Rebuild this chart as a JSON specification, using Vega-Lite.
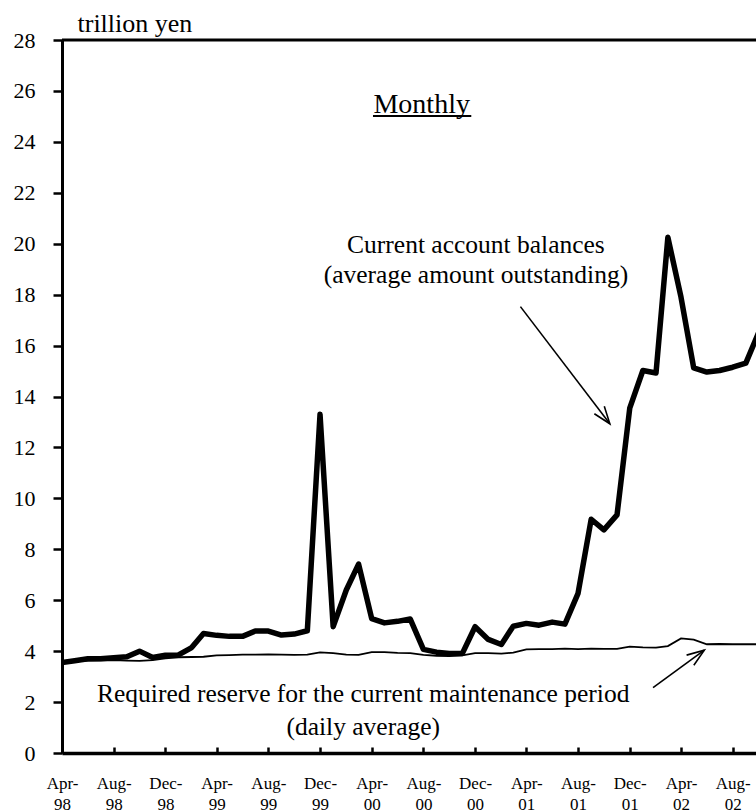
{
  "$schema": "https://vega.github.io/schema/vega-lite/v6.json",
  "autosize": {"type": "none"},
  "width": 694,
  "height": 713,
  "padding": {"left": 62, "top": 40, "right": 0, "bottom": 59},
  "background": "white",
  "config": {
    "view": {"stroke": null},
    "font": "Liberation Serif",
    "axis": {"grid": false, "labelFont": "Liberation Serif", "titleFont": "Liberation Serif"}
  },
  "datasets": {
    "monthly": [
      {"month": "1998-04-01", "balance": 3.55, "reserve": 3.55},
      {"month": "1998-05-01", "balance": 3.62, "reserve": 3.60},
      {"month": "1998-06-01", "balance": 3.70, "reserve": 3.63},
      {"month": "1998-07-01", "balance": 3.70, "reserve": 3.64},
      {"month": "1998-08-01", "balance": 3.74, "reserve": 3.65},
      {"month": "1998-09-01", "balance": 3.78, "reserve": 3.63},
      {"month": "1998-10-01", "balance": 4.00, "reserve": 3.62},
      {"month": "1998-11-01", "balance": 3.75, "reserve": 3.65},
      {"month": "1998-12-01", "balance": 3.84, "reserve": 3.72},
      {"month": "1999-01-01", "balance": 3.85, "reserve": 3.76},
      {"month": "1999-02-01", "balance": 4.14, "reserve": 3.77},
      {"month": "1999-03-01", "balance": 4.69, "reserve": 3.78},
      {"month": "1999-04-01", "balance": 4.62, "reserve": 3.83},
      {"month": "1999-05-01", "balance": 4.58, "reserve": 3.84},
      {"month": "1999-06-01", "balance": 4.58, "reserve": 3.86},
      {"month": "1999-07-01", "balance": 4.79, "reserve": 3.86},
      {"month": "1999-08-01", "balance": 4.79, "reserve": 3.87},
      {"month": "1999-09-01", "balance": 4.63, "reserve": 3.86},
      {"month": "1999-10-01", "balance": 4.67, "reserve": 3.85},
      {"month": "1999-11-01", "balance": 4.80, "reserve": 3.86},
      {"month": "1999-12-01", "balance": 13.30, "reserve": 3.95},
      {"month": "2000-01-01", "balance": 4.96, "reserve": 3.92},
      {"month": "2000-02-01", "balance": 6.40, "reserve": 3.86},
      {"month": "2000-03-01", "balance": 7.42, "reserve": 3.85},
      {"month": "2000-04-01", "balance": 5.28, "reserve": 3.96},
      {"month": "2000-05-01", "balance": 5.11, "reserve": 3.96},
      {"month": "2000-06-01", "balance": 5.17, "reserve": 3.93},
      {"month": "2000-07-01", "balance": 5.26, "reserve": 3.92},
      {"month": "2000-08-01", "balance": 4.07, "reserve": 3.85},
      {"month": "2000-09-01", "balance": 3.96, "reserve": 3.82},
      {"month": "2000-10-01", "balance": 3.91, "reserve": 3.81},
      {"month": "2000-11-01", "balance": 3.91, "reserve": 3.83},
      {"month": "2000-12-01", "balance": 4.96, "reserve": 3.92},
      {"month": "2001-01-01", "balance": 4.46, "reserve": 3.92},
      {"month": "2001-02-01", "balance": 4.26, "reserve": 3.90},
      {"month": "2001-03-01", "balance": 4.98, "reserve": 3.94},
      {"month": "2001-04-01", "balance": 5.09, "reserve": 4.07},
      {"month": "2001-05-01", "balance": 5.02, "reserve": 4.08},
      {"month": "2001-06-01", "balance": 5.14, "reserve": 4.08},
      {"month": "2001-07-01", "balance": 5.06, "reserve": 4.10},
      {"month": "2001-08-01", "balance": 6.27, "reserve": 4.08},
      {"month": "2001-09-01", "balance": 9.18, "reserve": 4.10},
      {"month": "2001-10-01", "balance": 8.76, "reserve": 4.09},
      {"month": "2001-11-01", "balance": 9.35, "reserve": 4.09},
      {"month": "2001-12-01", "balance": 13.54, "reserve": 4.18},
      {"month": "2002-01-01", "balance": 15.02, "reserve": 4.15},
      {"month": "2002-02-01", "balance": 14.92, "reserve": 4.14},
      {"month": "2002-03-01", "balance": 20.25, "reserve": 4.20},
      {"month": "2002-04-01", "balance": 17.90, "reserve": 4.50},
      {"month": "2002-05-01", "balance": 15.12, "reserve": 4.45},
      {"month": "2002-06-01", "balance": 14.96, "reserve": 4.27},
      {"month": "2002-07-01", "balance": 15.02, "reserve": 4.28},
      {"month": "2002-08-01", "balance": 15.15, "reserve": 4.27},
      {"month": "2002-09-01", "balance": 15.31, "reserve": 4.27},
      {"month": "2002-10-01", "balance": 16.50, "reserve": 4.27}
    ],
    "one": [{}]
  },
  "layer": [
    {
      "data": {"name": "one"},
      "mark": {"type": "rule", "color": "black", "strokeWidth": 3},
      "encoding": {"y": {"datum": 28, "type": "quantitative"}}
    },
    {
      "data": {"name": "monthly"},
      "mark": {"type": "line", "color": "black", "strokeWidth": 1.8, "clip": true},
      "encoding": {
        "x": {
          "field": "month",
          "type": "temporal",
          "scale": {
            "type": "utc",
            "domain": [
              {"year": 1998, "month": 4, "date": 1, "utc": true},
              {"year": 2002, "month": 9, "date": 25, "utc": true}
            ]
          },
          "axis": {
            "title": null,
            "values": [
              {"year": 1998, "month": 4, "date": 1, "utc": true},
              {"year": 1998, "month": 8, "date": 1, "utc": true},
              {"year": 1998, "month": 12, "date": 1, "utc": true},
              {"year": 1999, "month": 4, "date": 1, "utc": true},
              {"year": 1999, "month": 8, "date": 1, "utc": true},
              {"year": 1999, "month": 12, "date": 1, "utc": true},
              {"year": 2000, "month": 4, "date": 1, "utc": true},
              {"year": 2000, "month": 8, "date": 1, "utc": true},
              {"year": 2000, "month": 12, "date": 1, "utc": true},
              {"year": 2001, "month": 4, "date": 1, "utc": true},
              {"year": 2001, "month": 8, "date": 1, "utc": true},
              {"year": 2001, "month": 12, "date": 1, "utc": true},
              {"year": 2002, "month": 4, "date": 1, "utc": true},
              {"year": 2002, "month": 8, "date": 1, "utc": true}
            ],
            "labelExpr": "[utcFormat(datum.value, '%b') + '-', utcFormat(datum.value, '%y')]",
            "labelFont": "Liberation Serif",
            "labelFontSize": 17,
            "labelLineHeight": 21,
            "labelColor": "black",
            "labelBaseline": "top",
            "labelPadding": 28,
            "labelOverlap": false,
            "labelBound": false,
            "labelFlush": false,
            "domainColor": "black",
            "domainWidth": 3.5,
            "tickColor": "black",
            "tickWidth": 2.5,
            "tickSize": -6
          }
        },
        "y": {
          "field": "reserve",
          "type": "quantitative",
          "scale": {"domain": [0, 28], "nice": false},
          "axis": {
            "values": [0, 2, 4, 6, 8, 10, 12, 14, 16, 18, 20, 22, 24, 26, 28],
            "title": "trillion yen",
            "titleAngle": 0,
            "titleX": 15,
            "titleY": -9,
            "titleAlign": "left",
            "titleBaseline": "alphabetic",
            "titleFont": "Liberation Serif",
            "titleFontSize": 26,
            "titleFontWeight": "normal",
            "titleColor": "black",
            "labelFont": "Liberation Serif",
            "labelFontSize": 22,
            "labelColor": "black",
            "labelPadding": 18,
            "domainColor": "black",
            "domainWidth": 3,
            "tickColor": "black",
            "tickWidth": 2.5,
            "tickSize": 9
          }
        }
      }
    },
    {
      "data": {"name": "monthly"},
      "mark": {"type": "line", "color": "black", "strokeWidth": 5.5, "strokeJoin": "round", "clip": true},
      "encoding": {
        "x": {"field": "month", "type": "temporal"},
        "y": {"field": "balance", "type": "quantitative"}
      }
    },
    {
      "data": {"name": "one"},
      "mark": {"type": "text", "text": "Monthly", "font": "Liberation Serif", "fontSize": 28, "align": "center", "baseline": "alphabetic", "color": "black"},
      "encoding": {
        "x": {"datum": {"year": 2000, "month": 7, "date": 28, "utc": true}, "type": "temporal"},
        "y": {"datum": 25.14, "type": "quantitative"}
      }
    },
    {
      "data": {"name": "one"},
      "mark": {"type": "rule", "color": "black", "strokeWidth": 2},
      "encoding": {
        "x": {"datum": {"year": 2000, "month": 4, "date": 4, "utc": true}, "type": "temporal"},
        "x2": {"datum": {"year": 2000, "month": 11, "date": 22, "utc": true}},
        "y": {"datum": 25.02, "type": "quantitative"}
      }
    },
    {
      "data": {"name": "one"},
      "mark": {"type": "text", "text": ["Current account balances", "(average amount outstanding)"], "lineHeight": 30, "font": "Liberation Serif", "fontSize": 25.5, "align": "center", "baseline": "alphabetic", "color": "black"},
      "encoding": {
        "x": {"datum": {"year": 2000, "month": 12, "date": 3, "utc": true}, "type": "temporal"},
        "y": {"datum": 19.64, "type": "quantitative"}
      }
    },
    {
      "data": {"name": "one"},
      "mark": {"type": "rule", "color": "black", "strokeWidth": 1.6},
      "encoding": {
        "x": {"datum": {"year": 2001, "month": 3, "date": 18, "utc": true}, "type": "temporal"},
        "x2": {"datum": {"year": 2001, "month": 10, "date": 15, "utc": true}},
        "y": {"datum": 17.53, "type": "quantitative"},
        "y2": {"datum": 12.93}
      }
    },
    {
      "data": {"name": "one"},
      "mark": {"type": "point", "shape": "M -1 -0.36 L 0 0 L -1 0.36", "filled": false, "stroke": "black", "strokeWidth": 1.6, "size": 1200, "angle": 52.7, "opacity": 1},
      "encoding": {
        "x": {"datum": {"year": 2001, "month": 10, "date": 15, "utc": true}, "type": "temporal"},
        "y": {"datum": 12.93, "type": "quantitative"}
      }
    },
    {
      "data": {"name": "one"},
      "mark": {"type": "text", "text": ["Required reserve for the current maintenance period", "(daily average)"], "lineHeight": 33, "font": "Liberation Serif", "fontSize": 25.5, "align": "center", "baseline": "alphabetic", "color": "black"},
      "encoding": {
        "x": {"datum": {"year": 2000, "month": 3, "date": 12, "utc": true}, "type": "temporal"},
        "y": {"datum": 2.0, "type": "quantitative"}
      }
    },
    {
      "data": {"name": "one"},
      "mark": {"type": "rule", "color": "black", "strokeWidth": 1.6},
      "encoding": {
        "x": {"datum": {"year": 2002, "month": 1, "date": 25, "utc": true}, "type": "temporal"},
        "x2": {"datum": {"year": 2002, "month": 5, "date": 26, "utc": true}},
        "y": {"datum": 2.57, "type": "quantitative"},
        "y2": {"datum": 4.04}
      }
    },
    {
      "data": {"name": "one"},
      "mark": {"type": "point", "shape": "M -1 -0.36 L 0 0 L -1 0.36", "filled": false, "stroke": "black", "strokeWidth": 1.6, "size": 1200, "angle": 324.5, "opacity": 1},
      "encoding": {
        "x": {"datum": {"year": 2002, "month": 5, "date": 26, "utc": true}, "type": "temporal"},
        "y": {"datum": 4.04, "type": "quantitative"}
      }
    }
  ]
}
